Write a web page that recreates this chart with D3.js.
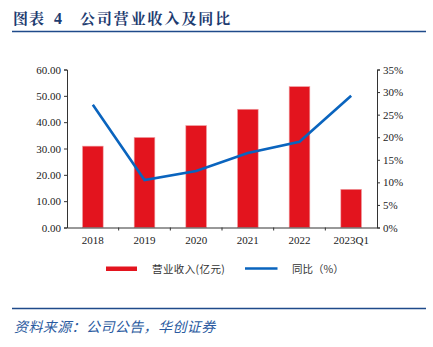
<!DOCTYPE html>
<html><head><meta charset="utf-8">
<script src="https://cdn.jsdelivr.net/npm/d3@7"></script>
<style>
html,body{margin:0;padding:0;background:#fff;}
svg{display:block;}
</style></head>
<body>
<svg id="c" width="433" height="347"></svg>
<script>
const categories = ["2018","2019","2020","2021","2022","2023Q1"];
const revenue = [30.9, 34.2, 38.7, 44.9, 53.5, 14.5];
const yoy = [27.2, 10.5, 12.5, 16.5, 19.0, 29.2];
const leftTicks = [0,10,20,30,40,50,60];
const rightTicks = [0,5,10,15,20,25,30,35];
const titleParts = ["图表", "4", "公司营业收入及同比"];
const sourceText = "资料来源：公司公告，华创证券";
const legendLabels = ["营业收入(亿元)", "同比（%）"];

const svg = d3.select("#c");
const L = 67, R = 377, T = 69.5, B = 227.5;
const serif = "'Liberation Serif','DejaVu Serif',serif";
const cjk = "'Noto Sans CJK SC',sans-serif";

const x = d3.scaleBand().domain(categories).range([L, R]);
const yL = d3.scaleLinear().domain([0,60]).range([B, T]);
const yR = d3.scaleLinear().domain([0,35]).range([B, T]);

// title
const tg = svg.append("g").attr("font-family","'Noto Serif CJK SC','Noto Sans CJK SC',sans-serif")
  .attr("font-weight","bold").attr("font-size",15).attr("fill","#1d3b70");
tg.append("text").attr("x",13).attr("y",24).attr("letter-spacing",1).text(titleParts[0]);
tg.append("text").attr("x",54).attr("y",24).attr("font-family",serif).attr("font-size",16).text(titleParts[1]);
tg.append("text").attr("x",80).attr("y",24).attr("letter-spacing",1.9).text(titleParts[2]);
svg.append("line").attr("x1",12).attr("x2",426).attr("y1",31.5).attr("y2",31.5).attr("stroke","#1f4a8a").attr("stroke-width",1.5);

// bars
const bw = x.bandwidth()*0.4;
svg.append("g").selectAll("rect").data(categories).join("rect")
  .attr("x", d => x(d) + x.bandwidth()/2 - bw/2)
  .attr("y", (d,i) => yL(revenue[i]))
  .attr("width", bw)
  .attr("height", (d,i) => B - yL(revenue[i]))
  .attr("fill", "#e3141e").attr("stroke","#f0a0a4").attr("stroke-width",0.6);

// axes
const axL = svg.append("g").attr("transform",`translate(${L},0)`)
  .call(d3.axisLeft(yL).tickValues(leftTicks).tickFormat(d=>d.toFixed(2)).tickSize(3));
const axR = svg.append("g").attr("transform",`translate(${R},0)`)
  .call(d3.axisRight(yR).tickValues(rightTicks).tickFormat(d=>d+"%").tickSize(3));
const axB = svg.append("g").attr("transform",`translate(0,${B})`)
  .call(d3.axisBottom(x).tickSize(0));
svg.append("g").selectAll("line").data(categories.slice(1)).join("line")
  .attr("x1", d => x(d)).attr("x2", d => x(d)).attr("y1", B).attr("y2", B+3)
  .attr("stroke","#333");
[axL,axR,axB].forEach(a=>{
  a.select(".domain").attr("stroke","#333");
  a.selectAll(".tick line").attr("stroke","#333");
  a.selectAll("text").attr("font-family",serif).attr("font-size",11).attr("fill","#222");
});
axL.selectAll("text").attr("x",-6);
axR.selectAll("text").attr("x",6);
axB.selectAll("text").attr("dy","0.71em").attr("y",9);

// line
const line = d3.line().x((d,i)=>x(categories[i])+x.bandwidth()/2).y(d=>yR(d));
svg.append("path").datum(yoy).attr("d",line).attr("fill","none")
  .attr("stroke","#0a64be").attr("stroke-width",2.6).attr("stroke-linejoin","miter");

// legend
svg.append("rect").attr("x",106).attr("y",266.5).attr("width",31).attr("height",4.5).attr("fill","#e3141e");
svg.append("text").attr("x",152).attr("y",272.5).attr("font-family",cjk).attr("font-size",10.5).attr("letter-spacing",0.4).attr("fill","#333").text(legendLabels[0]);
svg.append("line").attr("x1",245).attr("x2",277.5).attr("y1",268.5).attr("y2",268.5).attr("stroke","#0a64be").attr("stroke-width",2.6);
svg.append("text").attr("x",292).attr("y",272.5).attr("font-family",cjk).attr("font-size",10.5).attr("fill","#333").text(legendLabels[1]);

// source
svg.append("line").attr("x1",12).attr("x2",426).attr("y1",308.5).attr("y2",308.5).attr("stroke","#1f4a8a").attr("stroke-width",1.5);
svg.append("text").attr("x",14).attr("y",331.5).attr("font-family",cjk).attr("font-style","italic").attr("font-size",14)
  .attr("letter-spacing",0.4).attr("fill","#2a5aa0").text(sourceText);
</script>
</body></html>
